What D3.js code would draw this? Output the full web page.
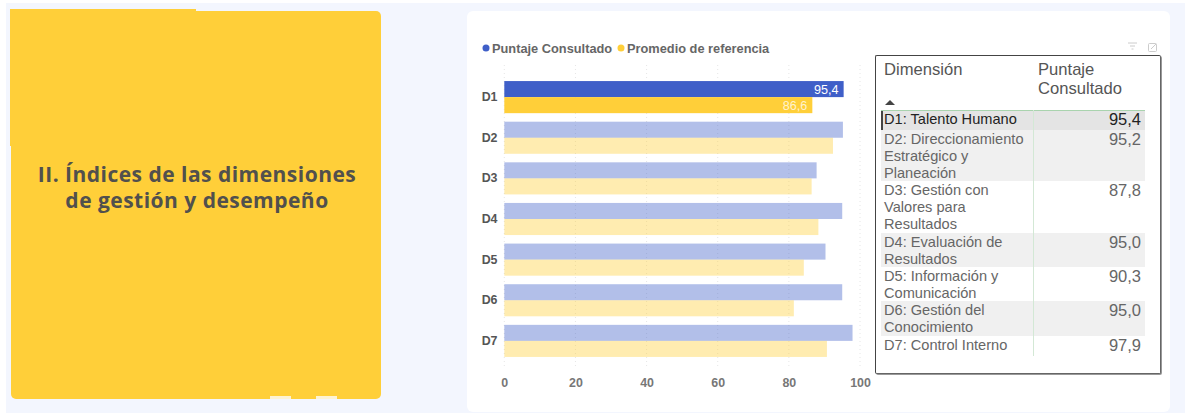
<!DOCTYPE html>
<html>
<head>
<meta charset="utf-8">
<script src="https://cdnjs.cloudflare.com/ajax/libs/d3/7.8.5/d3.min.js"></script>
<style>
html, body { margin: 0; padding: 0; background: #fff; overflow: hidden; }
#page { position: relative; width: 1190px; height: 414px; }
svg { position: absolute; left: 0; top: 0; }
#tabla { position: absolute; left: 875px; top: 55px; width: 286px; height: 319px; box-sizing: border-box;
    border: 1px solid #444; border-right-color: #666; border-bottom-color: #666; border-radius: 2px; box-shadow: 1px 1px 0 #999; background: #fff;
    font-family: "Liberation Sans", Arial, sans-serif; font-size: 14.6px; line-height: 17px; color: #666; }
#tabla .fila { position: absolute; left: 5px; width: 264px; }
#tabla .dim { position: absolute; left: 3px; top: 1px; width: 148px; }
#tabla .val { position: absolute; right: 4px; top: 0; font-size: 16.5px; line-height: 19px; }
#tabla .cab { position: absolute; font-size: 16.6px; line-height: 19px; color: #555; }
</style>
</head>
<body>
<div id="page"></div>
<script>
// datos
var categorias = ["D1", "D2", "D3", "D4", "D5", "D6", "D7"];
var puntaje = [95.4, 95.2, 87.8, 95.0, 90.3, 95.0, 97.9];
var promedio = [86.6, 92.4, 86.4, 88.3, 84.2, 81.4, 90.7];
var nombres = ["D1: Talento Humano", "D2: Direccionamiento Estratégico y Planeación",
    "D3: Gestión con Valores para Resultados", "D4: Evaluación de Resultados",
    "D5: Información y Comunicación", "D6: Gestión del Conocimiento", "D7: Control Interno"];
var altoFilas = [20, 51, 52, 34, 34, 35, 20];
var series = ["Puntaje Consultado", "Promedio de referencia"];
var ticks = [0, 20, 40, 60, 80, 100];
var seleccion = 0;

var azul = "#3f5fc8", amarillo = "#ffcf39", fondo = "#f3f6fe";
var formato = function(v) { return v.toFixed(1).replace(".", ","); };

var page = d3.select("#page");
var svg = page.append("svg").attr("width", 1190).attr("height", 414);

// fondo y tarjetas
svg.append("rect").attr("x", 6).attr("y", 3).attr("width", 1179).attr("height", 410).attr("fill", fondo);
svg.append("rect").attr("x", 11).attr("y", 11).attr("width", 370).attr("height", 388).attr("rx", 5).attr("fill", amarillo);
svg.append("rect").attr("x", 10).attr("y", 9).attr("width", 186).attr("height", 137).attr("fill", amarillo);
svg.selectAll("rect.pestana").data([270, 316]).enter().append("rect").attr("class", "pestana")
    .attr("x", function(d) { return d; }).attr("y", 396).attr("width", 21).attr("height", 3).attr("fill", "#fdf3d4");
svg.append("rect").attr("x", 467).attr("y", 11).attr("width", 703).attr("height", 401).attr("rx", 6).attr("fill", "#fff");

var titulo = svg.append("text").attr("text-anchor", "middle")
    .style("font-family", "'Open Sans', sans-serif").style("font-weight", 700)
    .style("font-size", "21px").style("letter-spacing", "0.48px").attr("fill", "#51504d");
titulo.append("tspan").attr("x", 197).attr("y", 182).text("II. Índices de las dimensiones");
titulo.append("tspan").attr("x", 197).attr("y", 208).text("de gestión y desempeño");

// escalas
var x = d3.scaleLinear().domain([0, 100]).range([504.3, 860]);
var y = d3.scaleBand().domain(categorias).range([77, 361]).paddingInner(0.21).paddingOuter(0.1);
var y2 = d3.scaleBand().domain(series).range([0, y.bandwidth()]);

// rejilla punteada
svg.append("g").selectAll("line").data(ticks).enter().append("line")
    .attr("x1", function(d) { return x(d); }).attr("x2", function(d) { return x(d); })
    .attr("y1", 65).attr("y2", 366)
    .attr("stroke", "#e6e6e6").attr("stroke-dasharray", "1,3");

// barras
var grupos = svg.append("g").selectAll("g").data(categorias).enter().append("g")
    .attr("transform", function(d) { return "translate(0," + y(d) + ")"; });

grupos.append("rect")
    .attr("x", x(0)).attr("y", y2(series[0])).attr("height", y2.bandwidth())
    .attr("width", function(d, i) { return x(puntaje[i]) - x(0); })
    .attr("fill", azul).attr("fill-opacity", function(d, i) { return i == seleccion ? 1 : 0.4; });

grupos.append("rect")
    .attr("x", x(0)).attr("y", y2(series[1])).attr("height", y2.bandwidth())
    .attr("width", function(d, i) { return x(promedio[i]) - x(0); })
    .attr("fill", amarillo).attr("fill-opacity", function(d, i) { return i == seleccion ? 1 : 0.4; });

// etiquetas solo en la barra seleccionada
var etiquetas = svg.append("g").style("font-family", "'Liberation Sans', Arial, sans-serif")
    .style("font-size", "12.6px").attr("fill", "#fff").attr("text-anchor", "end");
etiquetas.append("text").attr("x", x(puntaje[seleccion]) - 5)
    .attr("y", y(categorias[seleccion]) + y2(series[0]) + 12.5).text(formato(puntaje[seleccion]));
etiquetas.append("text").attr("x", x(promedio[seleccion]) - 5)
    .attr("y", y(categorias[seleccion]) + y2(series[1]) + 12.5).attr("fill", "#fff3cf").text(formato(promedio[seleccion]));

// ejes
var ejeY = svg.append("g").attr("transform", "translate(497.5,0)")
    .call(d3.axisLeft(y).tickSize(0).tickPadding(0));
ejeY.select(".domain").remove();
ejeY.selectAll("text").style("font-family", "'Liberation Sans', Arial, sans-serif")
    .style("font-size", "12.4px").style("font-weight", 700).attr("fill", "#555");

var ejeX = svg.append("g").attr("transform", "translate(0,375)")
    .call(d3.axisBottom(x).tickValues(ticks).tickSize(0).tickPadding(3));
ejeX.select(".domain").remove();
ejeX.selectAll("text").style("font-family", "'Liberation Sans', Arial, sans-serif")
    .style("font-size", "12.4px").style("font-weight", 700).attr("fill", "#777");

// leyenda
var leyenda = svg.append("g").style("font-family", "'Liberation Sans', Arial, sans-serif")
    .style("font-size", "12.8px").style("font-weight", 700).attr("fill", "#666");
leyenda.append("circle").attr("cx", 486).attr("cy", 48).attr("r", 3.5).attr("fill", azul);
leyenda.append("text").attr("x", 492).attr("y", 52.5).text(series[0]);
leyenda.append("circle").attr("cx", 621).attr("cy", 48).attr("r", 3.5).attr("fill", amarillo);
leyenda.append("text").attr("x", 627).attr("y", 52.5).text(series[1]);

// iconos filtro y expandir
var iconos = svg.append("g").attr("stroke", "#ccc").attr("fill", "none");
[[1128, 1137, 43], [1130, 1135, 46], [1131.5, 1133.5, 49]].forEach(function(l) {
    iconos.append("line").attr("x1", l[0]).attr("x2", l[1]).attr("y1", l[2]).attr("y2", l[2]);
});
iconos.append("rect").attr("x", 1148.5).attr("y", 43.5).attr("width", 8).attr("height", 8).attr("rx", 1);
iconos.append("line").attr("x1", 1151).attr("y1", 49).attr("x2", 1156).attr("y2", 44);

// tabla
var tabla = page.append("div").attr("id", "tabla");
tabla.append("div").attr("class", "cab").style("left", "8px").style("top", "4px").text("Dimensión");
tabla.append("div").attr("class", "cab").style("left", "162px").style("top", "4px").html("Puntaje<br>Consultado");
tabla.append("div").style("position", "absolute").style("left", "9px").style("top", "44px")
    .style("border-left", "5px solid transparent").style("border-right", "5px solid transparent")
    .style("border-bottom", "5px solid #444");

var yFila = 54;
nombres.forEach(function(n, i) {
    var f = tabla.append("div").attr("class", "fila")
        .style("top", yFila + "px").style("height", altoFilas[i] + "px")
        .style("background", i == seleccion ? "#e4e4e4" : (i % 2 == 1 ? "#f0f0f0" : "#fff"))
        .style("color", i == seleccion ? "#222" : "#666");
    f.append("div").attr("class", "dim").text(n);
    f.append("div").attr("class", "val").text(formato(puntaje[i]));
    yFila += altoFilas[i];
});
// lineas verdes de la tabla y marca de seleccion
tabla.append("div").style("position", "absolute").style("left", "5px").style("top", "54px")
    .style("width", "264px").style("height", "1px").style("background", "#a9d3ae");
tabla.append("div").style("position", "absolute").style("left", "157px").style("top", "54px")
    .style("width", "1px").style("height", (yFila - 54) + "px").style("background", "#d3e8d5");
tabla.append("div").style("position", "absolute").style("left", "5px").style("top", "55px")
    .style("width", "2px").style("height", "19px").style("background", "#444");
</script>
</body>
</html>
